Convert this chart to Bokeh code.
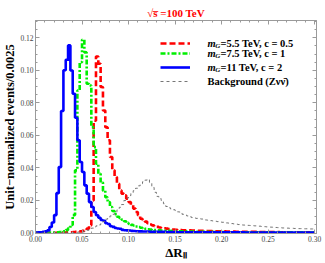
from bokeh.plotting import figure
from bokeh.models import (Range1d, LinearAxis, FixedTicker, Legend, LegendItem,
                          Label, PrintfTickFormatter)
from bokeh.embed import file_html
from bokeh.resources import INLINE

# ---------------- data (unit-normalized histograms, bin width 0.0025) -------------
bin_width = 0.0025
sig_55 = [0.0001, 0.0001, 0.0001, 0.0001, 0.0001, 0.0002, 0.0002, 0.0002, 0.0002, 0.0002,
          0.0003, 0.0003, 0.0003, 0.0004, 0.0004, 0.0005, 0.0006, 0.0007, 0.0008, 0.0010,
          0.0013, 0.0018, 0.0027, 0.0047, 0.0200, 0.0690, 0.1085, 0.1040, 0.0897, 0.0753,
          0.0650, 0.0570, 0.0467, 0.0385, 0.0344, 0.0303, 0.0262, 0.0242, 0.0231, 0.0211,
          0.0190, 0.0170, 0.0150, 0.0129, 0.0109, 0.0088, 0.0080, 0.0070, 0.0060, 0.0052,
          0.0047, 0.0042, 0.0038, 0.0034, 0.0031, 0.0029, 0.0027, 0.0025, 0.0023, 0.0022,
          0.0020, 0.0019, 0.0018, 0.0017, 0.0017, 0.0016, 0.0016, 0.0015, 0.0015, 0.0014,
          0.0014, 0.0013, 0.0013, 0.0012, 0.0012, 0.0012, 0.0011, 0.0011, 0.0011, 0.0010,
          0.0010, 0.0010, 0.0009, 0.0009, 0.0009, 0.0009, 0.0008, 0.0008, 0.0008, 0.0008,
          0.0007, 0.0007, 0.0007, 0.0007, 0.0007, 0.0006, 0.0006, 0.0006, 0.0006, 0.0006,
          0.0006, 0.0006, 0.0006, 0.0006, 0.0006, 0.0005, 0.0005, 0.0005, 0.0005, 0.0005,
          0.0005, 0.0005, 0.0005, 0.0005, 0.0005, 0.0004, 0.0004, 0.0004, 0.0004, 0.0004]
sig_75 = [0.0001, 0.0001, 0.0001, 0.0002, 0.0002, 0.0002, 0.0003, 0.0003, 0.0004, 0.0005,
          0.0006, 0.0008, 0.0010, 0.0018, 0.0030, 0.0050, 0.0110, 0.0385, 0.0876, 0.1050,
          0.1188, 0.1110, 0.0917, 0.0907, 0.0650, 0.0528, 0.0426, 0.0364, 0.0310, 0.0260,
          0.0220, 0.0190, 0.0160, 0.0135, 0.0115, 0.0100, 0.0092, 0.0082, 0.0072, 0.0062,
          0.0056, 0.0050, 0.0046, 0.0040, 0.0036, 0.0032, 0.0029, 0.0026, 0.0023, 0.0021,
          0.0019, 0.0018, 0.0017, 0.0016, 0.0015, 0.0014, 0.0013, 0.0013, 0.0012, 0.0012,
          0.0011, 0.0011, 0.0010, 0.0010, 0.0010, 0.0009, 0.0009, 0.0009, 0.0008, 0.0008,
          0.0008, 0.0008, 0.0007, 0.0007, 0.0007, 0.0007, 0.0006, 0.0006, 0.0006, 0.0006,
          0.0006, 0.0005, 0.0005, 0.0005, 0.0005, 0.0005, 0.0005, 0.0005, 0.0005, 0.0005,
          0.0005, 0.0005, 0.0005, 0.0004, 0.0004, 0.0004, 0.0004, 0.0004, 0.0004, 0.0004,
          0.0004, 0.0004, 0.0004, 0.0004, 0.0004, 0.0004, 0.0004, 0.0004, 0.0004, 0.0004,
          0.0004, 0.0004, 0.0004, 0.0004, 0.0004, 0.0003, 0.0003, 0.0003, 0.0003, 0.0003]
sig_11 = [0.0003, 0.0004, 0.0005, 0.0007, 0.0010, 0.0016, 0.0037, 0.0065, 0.0110, 0.0245,
          0.0405, 0.0750, 0.1000, 0.1065, 0.1153, 0.0999, 0.0856, 0.0708, 0.0570, 0.0436,
          0.0375, 0.0293, 0.0242, 0.0190, 0.0160, 0.0129, 0.0109, 0.0094, 0.0080, 0.0075,
          0.0060, 0.0055, 0.0042, 0.0038, 0.0031, 0.0028, 0.0026, 0.0019, 0.0017, 0.0016,
          0.0015, 0.0013, 0.0012, 0.0011, 0.0010, 0.0010, 0.0009, 0.0009, 0.0009, 0.0008,
          0.0008, 0.0008, 0.0007, 0.0007, 0.0007, 0.0007, 0.0006, 0.0006, 0.0006, 0.0006,
          0.0006, 0.0005, 0.0005, 0.0005, 0.0005, 0.0005, 0.0005, 0.0005, 0.0005, 0.0005,
          0.0004, 0.0004, 0.0004, 0.0004, 0.0004, 0.0004, 0.0004, 0.0004, 0.0004, 0.0004,
          0.0004, 0.0004, 0.0004, 0.0004, 0.0004, 0.0004, 0.0004, 0.0004, 0.0004, 0.0004,
          0.0003, 0.0003, 0.0003, 0.0003, 0.0003, 0.0003, 0.0003, 0.0003, 0.0003, 0.0003,
          0.0003, 0.0003, 0.0003, 0.0003, 0.0003, 0.0003, 0.0003, 0.0003, 0.0003, 0.0003,
          0.0003, 0.0003, 0.0003, 0.0003, 0.0003, 0.0003, 0.0003, 0.0003, 0.0003, 0.0003]
bkg = [0.0000, 0.0000, 0.0000, 0.0000, 0.0000, 0.0001, 0.0001, 0.0001, 0.0001, 0.0001,
       0.0001, 0.0001, 0.0001, 0.0001, 0.0002, 0.0002, 0.0003, 0.0004, 0.0005, 0.0006,
       0.0008, 0.0012, 0.0017, 0.0023, 0.0030, 0.0037, 0.0044, 0.0050, 0.0057, 0.0070,
       0.0085, 0.0095, 0.0105, 0.0115, 0.0128, 0.0142, 0.0158, 0.0175, 0.0200, 0.0215,
       0.0230, 0.0243, 0.0260, 0.0275, 0.0290, 0.0303, 0.0315, 0.0325, 0.0330, 0.0310,
       0.0280, 0.0250, 0.0225, 0.0212, 0.0200, 0.0180, 0.0163, 0.0155, 0.0148, 0.0143,
       0.0138, 0.0130, 0.0122, 0.0115, 0.0110, 0.0105, 0.0100, 0.0095, 0.0092, 0.0090,
       0.0088, 0.0086, 0.0083, 0.0080, 0.0078, 0.0076, 0.0074, 0.0072, 0.0070, 0.0068,
       0.0066, 0.0064, 0.0062, 0.0060, 0.0058, 0.0056, 0.0054, 0.0052, 0.0050, 0.0049,
       0.0048, 0.0047, 0.0046, 0.0045, 0.0044, 0.0043, 0.0042, 0.0040, 0.0039, 0.0038,
       0.0037, 0.0036, 0.0035, 0.0034, 0.0033, 0.0032, 0.0031, 0.0030, 0.0030, 0.0029,
       0.0029, 0.0028, 0.0028, 0.0027, 0.0027, 0.0026, 0.0026, 0.0025, 0.0025, 0.0025]

x_ticks = [0.00, 0.05, 0.10, 0.15, 0.20, 0.25, 0.30]
x_minor = [0.01, 0.02, 0.03, 0.04, 0.06, 0.07, 0.08, 0.09, 0.11, 0.12, 0.13, 0.14,
           0.16, 0.17, 0.18, 0.19, 0.21, 0.22, 0.23, 0.24, 0.26, 0.27, 0.28, 0.29]
y_ticks = [0.00, 0.02, 0.04, 0.06, 0.08, 0.10, 0.12]
y_minor = [0.005, 0.01, 0.015, 0.025, 0.03, 0.035, 0.045, 0.05, 0.055, 0.065, 0.07, 0.075,
           0.085, 0.09, 0.095, 0.105, 0.11, 0.115, 0.125, 0.13]

labels = ["=5.5 TeV, c = 0.5", "=7.5 TeV, c = 1", "=11 TeV, c = 2"]
bkg_label = "Background (Zνν̄)"
title_text = "√s̅ =100 TeV"
x_label = "ΔRₗₗ"
y_label = "Unit−normalized events/0.0025"

# ---------------- figure ----------------
W, H = 325, 263
BL, BR, BT, BB = 35, 9, 20, 30
FW, FH = W - BL - BR, H - BT - BB

p = figure(width=W, height=H, output_backend="svg", toolbar_location=None,
           x_range=Range1d(0, 0.302), y_range=Range1d(-0.0003, 0.1306),
           min_border_left=BL, min_border_right=BR, min_border_top=BT,
           min_border_bottom=BB)
p.xgrid.visible = False
p.ygrid.visible = False
p.outline_line_color = "#9a9a9a"
p.background_fill_color = "white"

SERIF = "Liberation Serif"
FRAME = "#9a9a9a"


def style(ax, show_labels=True):
    ax.axis_line_color = FRAME
    ax.major_tick_line_color = FRAME
    ax.minor_tick_line_color = FRAME
    ax.major_tick_in = 4
    ax.major_tick_out = 0
    ax.minor_tick_in = 2
    ax.minor_tick_out = 0
    ax.major_label_text_font = SERIF
    ax.formatter = PrintfTickFormatter(format="%.2f")
    if show_labels:
        ax.major_label_text_color = "#444444"
        ax.major_label_text_font_size = "7.5px"
        ax.major_label_standoff = 2
    else:
        ax.major_label_text_color = None
        ax.major_label_text_alpha = 0
        ax.major_label_text_font_size = "1px"
        ax.major_label_standoff = 0


xb = p.below[0]
yl = p.left[0]
xb.ticker = FixedTicker(ticks=x_ticks, minor_ticks=x_minor)
yl.ticker = FixedTicker(ticks=y_ticks, minor_ticks=y_minor)
style(xb)
style(yl)
xb.axis_label = x_label
yl.axis_label = y_label
for ax, size in ((xb, "13px"), (yl, "12.5px")):
    ax.axis_label_text_font = SERIF
    ax.axis_label_text_font_style = "bold"
    ax.axis_label_text_font_size = size
    ax.axis_label_text_color = "black"
xb.axis_label_standoff = 0
yl.axis_label_standoff = 0

xt = LinearAxis(ticker=FixedTicker(ticks=x_ticks, minor_ticks=x_minor))
yr = LinearAxis(ticker=FixedTicker(ticks=y_ticks, minor_ticks=y_minor))
style(xt, False)
style(yr, False)
p.add_layout(xt, "above")
p.add_layout(yr, "right")

p.title.text = title_text
p.title.align = "center"
p.title.text_color = "#ff0000"
p.title.text_font = SERIF
p.title.text_font_style = "bold"
p.title.text_font_size = "11px"
p.title.standoff = 3
p.title.offset = 0

edges = [bin_width * i for i in range(len(sig_55) + 1)]


def hist(vals, **kw):
    return p.step(edges, list(vals) + [vals[-1]], mode="after", **kw)


r_red = hist(sig_55, line_color="#ff0000", line_width=2.6, line_dash="6 3")
r_green = hist(sig_75, line_color="#00ee00", line_width=2.6, line_dash="5 2 2 2")
r_blue = hist(sig_11, line_color="#0000ff", line_width=2.6)
r_bkg = hist(bkg, line_color="#666666", line_width=0.9, line_dash="3 3")

sx, sy = FW / 281.0, FH / 212.7


def lab(x, y, text, size, style="bold", color="black"):
    p.add_layout(Label(x=x, y=y, x_units="screen", y_units="screen", text=text,
                       text_font=SERIF, text_font_style=style, text_font_size=size,
                       text_color=color, text_baseline="middle", text_align="left"))


# ---------------- legend (one entry per row, rows as in the original) ----------------
rows = [22.7, 33.3, 47.3, 60.7]
h = 12
for r, rc in zip((r_red, r_green, r_blue, r_bkg), rows):
    lg = Legend(items=[LegendItem(label=" ", renderers=[r])],
                location=(125 * sx, FH - rc * sy - h / 2), padding=0, margin=0, spacing=0,
                glyph_width=int(30 * sx), glyph_height=h, label_height=h,
                label_width=1, label_standoff=0, label_text_font_size="1px",
                label_text_color=None, label_text_alpha=0,
                border_line_color=None, background_fill_alpha=0)
    p.add_layout(lg)

tx = 172 * sx
for i, t in enumerate(labels):
    yc = FH - rows[i] * sy
    lab(tx, yc, "m", "10.5px", style="bold italic")
    lab(tx + 7.8, yc - 2.5, "G", "7px", style="bold italic")
    lab(tx + 13, yc, t, "10.5px")
lab(tx, FH - rows[3] * sy, bkg_label, "10.5px")

open("out.html", "w").write(file_html(p, INLINE))
